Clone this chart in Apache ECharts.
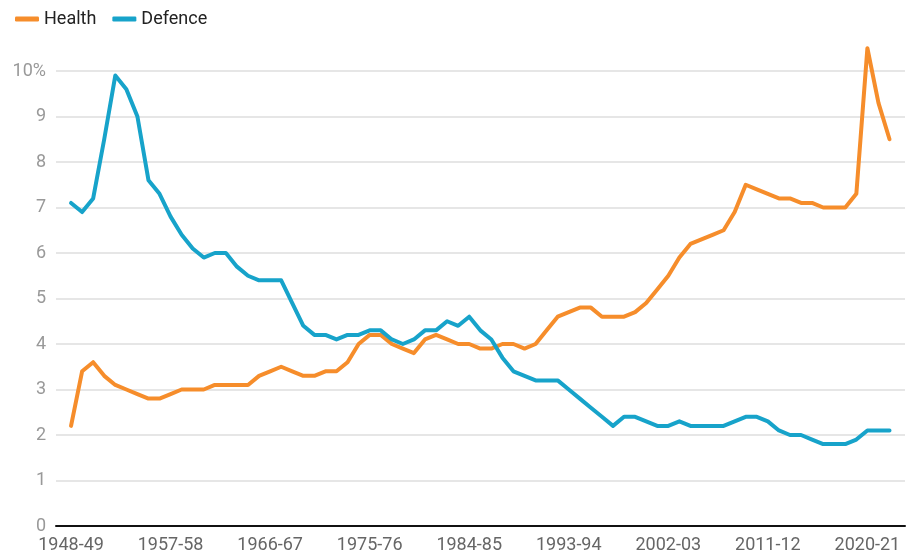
<!DOCTYPE html>
<html>
<head>
<meta charset="utf-8">
<script src="https://cdn.jsdelivr.net/npm/echarts@6/dist/echarts.min.js"></script>
<style>
    html, body { margin: 0; padding: 0; background: #fff; }
    #chart { width: 917px; height: 558px; }
</style>
</head>
<body>
<div id="chart"></div>
<script>
// fiscal years 1948-49 .. 2022-23
const years = [];
for (let y = 1948; y <= 2022; y++) {
    years.push(y + '-' + String((y + 1) % 100).padStart(2, '0'));
}

const health = [
    2.2, 3.4, 3.6, 3.3, 3.1, 3.0, 2.9, 2.8, 2.8, 2.9,
    3.0, 3.0, 3.0, 3.1, 3.1, 3.1, 3.1, 3.3, 3.4, 3.5,
    3.4, 3.3, 3.3, 3.4, 3.4, 3.6, 4.0, 4.2, 4.2, 4.0,
    3.9, 3.8, 4.1, 4.2, 4.1, 4.0, 4.0, 3.9, 3.9, 4.0,
    4.0, 3.9, 4.0, 4.3, 4.6, 4.7, 4.8, 4.8, 4.6, 4.6,
    4.6, 4.7, 4.9, 5.2, 5.5, 5.9, 6.2, 6.3, 6.4, 6.5,
    6.9, 7.5, 7.4, 7.3, 7.2, 7.2, 7.1, 7.1, 7.0, 7.0,
    7.0, 7.3, 10.5, 9.3, 8.5
];

const defence = [
    7.1, 6.9, 7.2, 8.5, 9.9, 9.6, 9.0, 7.6, 7.3, 6.8,
    6.4, 6.1, 5.9, 6.0, 6.0, 5.7, 5.5, 5.4, 5.4, 5.4,
    4.9, 4.4, 4.2, 4.2, 4.1, 4.2, 4.2, 4.3, 4.3, 4.1,
    4.0, 4.1, 4.3, 4.3, 4.5, 4.4, 4.6, 4.3, 4.1, 3.7,
    3.4, 3.3, 3.2, 3.2, 3.2, 3.0, 2.8, 2.6, 2.4, 2.2,
    2.4, 2.4, 2.3, 2.2, 2.2, 2.3, 2.2, 2.2, 2.2, 2.2,
    2.3, 2.4, 2.4, 2.3, 2.1, 2.0, 2.0, 1.9, 1.8, 1.8,
    1.8, 1.9, 2.1, 2.1, 2.1
];

const xTicks = [0, 9, 18, 27, 36, 45, 54, 63, 72];

const chart = echarts.init(document.getElementById('chart'));

chart.setOption({
    animation: false,
    textStyle: { fontFamily: 'Roboto' },
    legend: {
        left: 10,
        top: 5,
        icon: 'roundRect',
        itemWidth: 24,
        itemHeight: 5,
        itemGap: 16,
        textStyle: { fontSize: 18, color: '#222', fontFamily: 'Roboto' },
        data: ['Health', 'Defence']
    },
    grid: {
        left: 56,
        right: 12,
        top: 71,
        bottom: 32
    },
    xAxis: {
        type: 'value',
        min: -1.36,
        max: 75.4,
        axisLine: { show: true, onZero: false, lineStyle: { color: '#111', width: 2 } },
        axisTick: { show: false },
        splitLine: { show: false },
        axisLabel: {
            customValues: xTicks,
            fontSize: 18,
            color: '#666',
            margin: 10,
            formatter: v => years[Math.round(v)]
        }
    },
    yAxis: {
        type: 'value',
        min: 0,
        max: 10,
        interval: 1,
        axisLine: { show: false },
        axisTick: { show: false },
        splitLine: { lineStyle: { color: '#dedede', width: 1.5 } },
        axisLabel: {
            fontSize: 18,
            color: '#999',
            margin: 10,
            formatter: v => (v === 10 ? '10%' : String(v))
        }
    },
    series: [
        {
            name: 'Health',
            type: 'line',
            symbol: 'none',
            clip: false,
            lineStyle: { width: 4, color: '#f68d2b', cap: 'round', join: 'round' },
            itemStyle: { color: '#f68d2b' },
            data: health.map((v, i) => [i, v])
        },
        {
            name: 'Defence',
            type: 'line',
            symbol: 'none',
            clip: false,
            lineStyle: { width: 4, color: '#17a3ca', cap: 'round', join: 'round' },
            itemStyle: { color: '#17a3ca' },
            data: defence.map((v, i) => [i, v])
        }
    ]
});
</script>
</body>
</html>
